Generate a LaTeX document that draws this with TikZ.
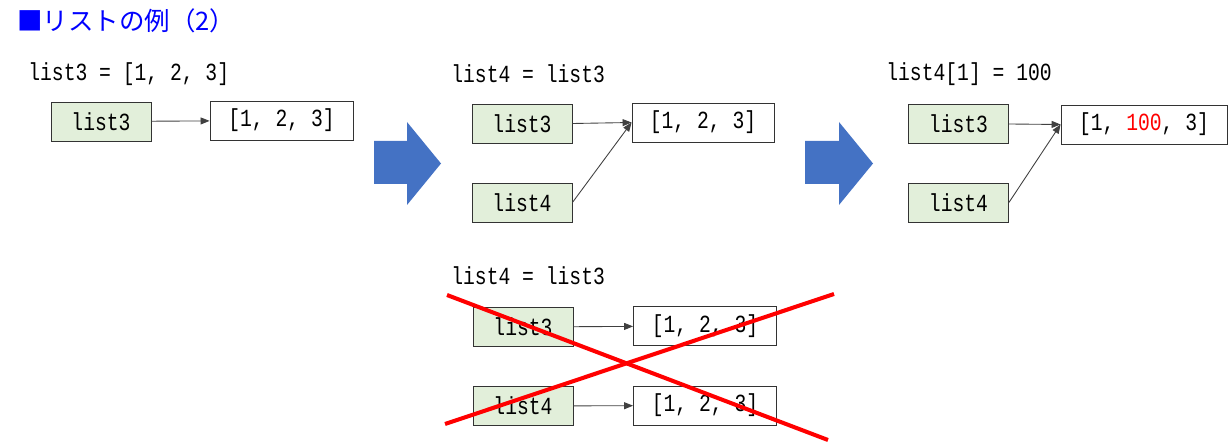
\documentclass[tikz,border=0pt]{standalone}
\usepackage{fontspec}
\newfontfamily\jpfont{Noto Sans CJK JP}
\newfontfamily\codefont[FakeStretch=0.8]{Liberation Mono}
\usetikzlibrary{arrows.meta}
\definecolor{varfill}{RGB}{226,239,218}
\definecolor{bigblue}{RGB}{68,114,196}
\tikzset{
	code/.style={font=\codefont\fontsize{14}{16}\selectfont, inner sep=0pt}
}
\tikzset{
	varbox/.style={code, draw=black!80, line width=0.5pt, fill=varfill, minimum width=20mm, minimum height=7.8mm},
	valbox/.style={code, draw=black!80, line width=0.5pt, fill=white, minimum width=28.6mm, minimum height=7.8mm},
	ref/.style={draw=black!75, line width=0.5pt, -{Triangle[length=1.8mm, width=1.4mm]}},
	cross/.style={draw=red, line width=2.3pt}
}

\begin{document}
\begin{tikzpicture}[x=0.2mm, y=-0.2mm]
      \useasboundingbox (0,0) rectangle (1228,444);
      \node[anchor=west, inner sep=0pt, text=blue, font=\jpfont\fontsize{14.5}{16}\selectfont] (title) at (17,21) {■リストの例（2）};
      % step 1
      \node[code, anchor=west] (cap1) at (28,74) {list3 = [1, 2, 3]};
      \node[varbox] (a3) at (101,121.5) {list3};
      \node[valbox] (av) at (281.5,120.5) {[1, 2, 3]};
      \draw[ref] (a3) -- (av);
      % big arrows
      \fill[bigblue] (374,141) -- (407,141) -- (407,122) -- (441,163.5) -- (407,205) -- (407,184) -- (374,184) -- cycle;
      \fill[bigblue] (805,141) -- (839,141) -- (839,122) -- (873,163.5) -- (839,205) -- (839,184) -- (805,184) -- cycle;
      % step 2
      \node[code, anchor=west] (cap2) at (451,74) {list4 = list3};
      \node[varbox] (b3) at (522,123.5) {list3};
      \node[varbox] (b4) at (522,202.5) {list4};
      \node[valbox, minimum width=28.4mm] (bv) at (703,122.5) {[1, 2, 3]};
      \draw[ref] (b3.east) -- (bv.west);
      \draw[ref] (b4.east) -- (bv.west);
      % step 3
      \node[code, anchor=west] (cap3) at (886,74) {list4[1] = 100};
      \node[varbox] (c3) at (958.5,124) {list3};
      \node[varbox] (c4) at (958.5,202.5) {list4};
      \node[valbox, minimum width=33.2mm] (cv) at (1144,124.5) {[1, \textcolor{red}{100}, 3]};
      \draw[ref] (c3.east) -- (cv.west);
      \draw[ref] (c4.east) -- (cv.west);
      % wrong picture
      \node[code, anchor=west] (cap4) at (451,276) {list4 = list3};
      \node[varbox] (d3) at (523,327) {list3};
      \node[valbox] (d3v) at (705,326) {[1, 2, 3]};
      \node[varbox] (d4) at (523,406) {list4};
      \node[valbox] (d4v) at (705,405.5) {[1, 2, 3]};
      \draw[ref] (d3) -- (d3v);
      \draw[ref] (d4) -- (d4v);
      \draw[cross] (447,295) -- (828,440);
      \draw[cross] (445,424) -- (834,294);
    \end{tikzpicture}
\end{document}
